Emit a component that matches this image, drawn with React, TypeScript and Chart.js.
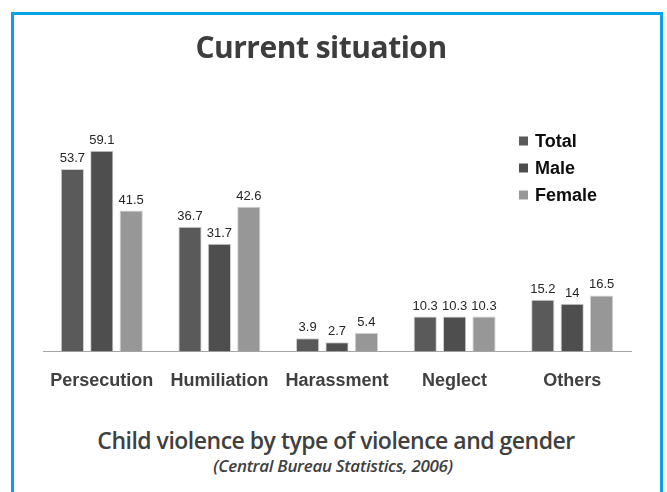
import React, { useEffect, useRef } from "react";
import { Chart, registerables } from "chart.js";

Chart.register(...registerables);

const categories = ["Persecution", "Humiliation", "Harassment", "Neglect", "Others"];
const seriesNames = ["Total", "Male", "Female"];
const totalValues = [53.7, 36.7, 3.9, 10.3, 15.2];
const maleValues = [59.1, 31.7, 2.7, 10.3, 14];
const femaleValues = [41.5, 42.6, 5.4, 10.3, 16.5];
const seriesColors = ["#5a5a5a", "#4e4e4e", "#979797"];

const titleText = "Current situation";
const footerText = "Child violence by type of violence and gender";
const sourceText = "(Central Bureau Statistics, 2006)";

const valueLabels = {
  id: "valueLabels",
  afterDatasetsDraw(chart: any) {
    const ctx = chart.ctx;
    ctx.save();
    ctx.font = "13px 'Liberation Sans', Arial, sans-serif";
    ctx.fillStyle = "#262626";
    ctx.textAlign = "center";
    ctx.textBaseline = "bottom";
    chart.data.datasets.forEach((ds: any, i: number) => {
      const meta = chart.getDatasetMeta(i);
      meta.data.forEach((el: any, j: number) => {
        ctx.fillText(String(ds.data[j]), el.x, el.y - 4);
      });
    });
    ctx.restore();
  },
};

const customLegend = {
  id: "customLegend",
  afterDraw(chart: any) {
    const ctx = chart.ctx;
    ctx.save();
    ctx.font = "bold 18px 'Liberation Sans', Arial, sans-serif";
    ctx.textBaseline = "middle";
    ctx.textAlign = "left";
    const x0 = 519;
    const y0 = 141;
    const step = 27;
    chart.data.datasets.forEach((ds: any, i: number) => {
      const y = y0 + i * step;
      ctx.fillStyle = ds.backgroundColor;
      ctx.fillRect(x0, y - 4.5, 9, 9);
      ctx.fillStyle = "#0d0d0d";
      ctx.fillText(ds.label, x0 + 16, y + 1);
    });
    ctx.restore();
  },
};

export default function App() {
  const canvasRef = useRef<HTMLCanvasElement | null>(null);

  useEffect(() => {
    if (!canvasRef.current) return;
    const seriesData = [totalValues, maleValues, femaleValues];
    const chart = new Chart(canvasRef.current, {
      type: "bar",
      data: {
        labels: categories,
        datasets: seriesNames.map((name, i) => ({
          label: name,
          data: seriesData[i],
          backgroundColor: seriesColors[i],
          borderColor: "#d0d0d0",
          borderWidth: 1,
          categoryPercentage: 0.75,
          barPercentage: 0.79,
        })),
      },
      options: {
        responsive: false,
        devicePixelRatio: 1,
        animation: false,
        layout: { padding: { left: 43, right: 36, top: 129, bottom: 0 } },
        plugins: {
          legend: { display: false },
          tooltip: { enabled: false },
          title: { display: false },
        },
        scales: {
          y: { display: false, min: 0, max: 65.5 },
          x: {
            grid: { display: false, drawTicks: false },
            border: { display: true, color: "#a6a6a6", width: 1 },
            ticks: {
              color: "#404040",
              padding: 19,
              font: { family: "'Liberation Sans', Arial, sans-serif", size: 18, weight: "bold" },
            },
          },
        },
      },
      plugins: [valueLabels, customLegend],
    });
    return () => chart.destroy();
  }, []);

  return (
    <div
      style={{
        position: "absolute",
        left: 0,
        top: 0,
        width: 667,
        height: 492,
        overflow: "hidden",
        background: "#ffffff",
      }}
    >
      <div
        style={{
          position: "absolute",
          left: 11,
          top: 12,
          width: 652,
          height: 540,
          boxSizing: "border-box",
          border: "3px solid #0aa2e6",
        }}
      />
      <canvas
        ref={canvasRef}
        width={667}
        height={411}
        style={{ position: "absolute", left: 0, top: 0, width: 667, height: 411 }}
      />
      <div
        style={{
          position: "absolute",
          left: 0,
          top: 27,
          width: 642,
          textAlign: "center",
          fontFamily: "'Open Sans', sans-serif",
          fontWeight: 700,
          fontSize: 30,
          letterSpacing: -0.5,
          lineHeight: "40px",
          color: "#3d3d3d",
        }}
      >
        {titleText}
      </div>
      <div
        style={{
          position: "absolute",
          left: 0,
          top: 424,
          width: 672,
          textAlign: "center",
          fontFamily: "'Open Sans', sans-serif",
          fontWeight: 600,
          fontSize: 23,
          letterSpacing: -0.5,
          lineHeight: "32px",
          color: "#404040",
        }}
      >
        {footerText}
      </div>
      <div
        style={{
          position: "absolute",
          left: 0,
          top: 455,
          width: 666,
          textAlign: "center",
          fontFamily: "'Open Sans', sans-serif",
          fontWeight: 600,
          fontStyle: "italic",
          fontSize: 17,
          letterSpacing: -0.3,
          lineHeight: "22px",
          color: "#404040",
        }}
      >
        {sourceText}
      </div>
    </div>
  );
}
